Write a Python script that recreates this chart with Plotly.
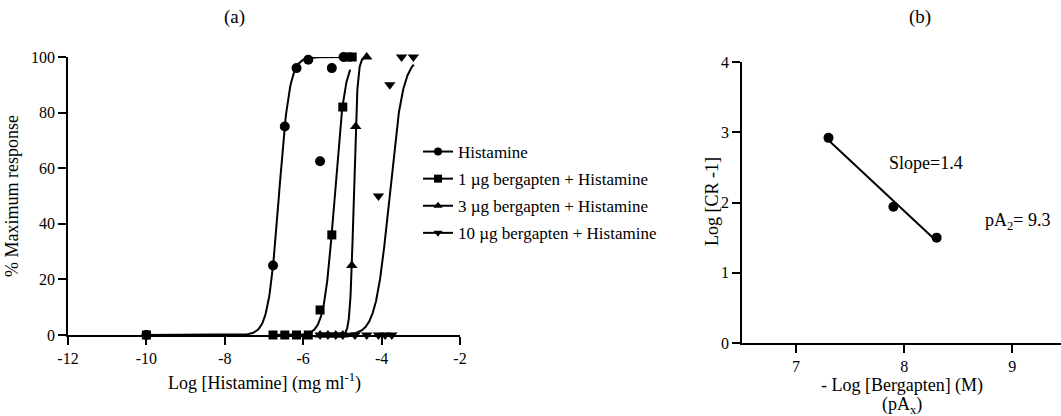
import numpy as np
import plotly.graph_objects as go

# ---------------- data: panel (a) ----------------
hist_x = [-10, -6.77, -6.47, -6.17, -5.87, -5.57, -5.27, -4.97]
hist_y = [0, 25, 75, 96, 99, 62.5, 96, 100]

b1_x = [-10, -6.77, -6.47, -6.17, -5.87, -5.57, -5.27, -4.99, -4.87, -4.75]
b1_y = [0, 0, 0, 0, 0, 9, 36, 82, 100, 100]

b3_x = [-5.57, -5.37, -5.17, -4.99, -4.76, -4.66, -4.38]
b3_y = [0, 0, 0, 0, 25, 75, 100]

b10_x = [-5.57, -5.37, -5.17, -4.99, -4.68, -4.38, -4.08, -3.91, -3.74, -4.08, -3.79, -3.49, -3.19]
b10_y = [0, 0, 0, 0, 0, 0, 0, 0, 0, 50, 90, 100, 100]

# fitted sigmoid parameters (log EC50, Hill slope, x-range of fitted curve)
fits = {
    "Histamine": (-6.62, 3.2, -10.0, -4.97),
    "1 µg bergapten + Histamine": (-5.2, 3.3, -6.8, -4.8),
    "3 µg bergapten + Histamine": (-4.71, 9.5, -5.57, -4.4),
    "10 µg bergapten + Histamine": (-3.8, 2.5, -4.9, -3.18),
}
series_names = list(fits.keys())

# ---------------- data: panel (b) ----------------
schild_x = [7.3, 7.9, 8.3]
schild_y = [2.92, 1.94, 1.5]

a_xticks = [-12, -10, -8, -6, -4, -2]
a_xticktext = ["-12", "-10", "-8", "-6", "-4", "-2"]
a_yticks = [0, 20, 40, 60, 80, 100]
b_xticks = [7, 8, 9]
b_yticks = [0, 1, 2, 3, 4]

FONT = "Liberation Serif"
BLACK = "#000000"
TICKSIZE = 16

fig = go.Figure()

symbols = ["circle", "square", "triangle-up", "triangle-down"]
msizes = [10, 9, 10, 10]
pts = [(hist_x, hist_y), (b1_x, b1_y), (b3_x, b3_y), (b10_x, b10_y)]

for name, sym, ms, (px, py) in zip(series_names, symbols, msizes, pts):
    ec50, h, x0, x1 = fits[name]
    xc = np.linspace(x0, x1, 300)
    yc = 100.0 / (1.0 + 10 ** ((ec50 - xc) * h))
    fig.add_trace(go.Scatter(x=xc, y=yc, mode="lines", line=dict(color=BLACK, width=2),
                             showlegend=False, hoverinfo="skip", xaxis="x", yaxis="y",
                             cliponaxis=False))
    fig.add_trace(go.Scatter(x=px, y=py, mode="markers",
                             marker=dict(symbol=sym, size=ms, color=BLACK),
                             showlegend=False, xaxis="x", yaxis="y", cliponaxis=False))
    # legend entry
    fig.add_trace(go.Scatter(x=[None], y=[None], mode="lines+markers", name=name,
                             line=dict(color=BLACK, width=2),
                             marker=dict(symbol=sym, size=8, color=BLACK),
                             legendgroup=name, xaxis="x", yaxis="y"))

# panel (b)
slope, intercept = np.polyfit(schild_x, schild_y, 1)
lx = np.array([min(schild_x), max(schild_x)])
fig.add_trace(go.Scatter(x=lx, y=slope * lx + intercept, mode="lines",
                         line=dict(color=BLACK, width=2), showlegend=False,
                         xaxis="x2", yaxis="y2"))
fig.add_trace(go.Scatter(x=schild_x, y=schild_y, mode="markers",
                         marker=dict(symbol="circle", size=10, color=BLACK),
                         showlegend=False, xaxis="x2", yaxis="y2", cliponaxis=False))

W, H = 1061, 416


def axis(**kw):
    d = dict(showgrid=False, zeroline=False, showline=True, linecolor=BLACK, linewidth=1.5,
             ticks="outside", ticklen=8, tickwidth=1.5, tickcolor=BLACK, automargin=False,
             tickfont=dict(family=FONT, size=TICKSIZE, color=BLACK))
    d.update(kw)
    return d


fig.update_layout(
    width=W, height=H, margin=dict(l=0, r=0, t=0, b=0),
    paper_bgcolor="white", plot_bgcolor="white",
    font=dict(family=FONT, size=TICKSIZE, color=BLACK),
    xaxis=axis(domain=[68 / W, 460 / W], range=[-12, -2], tickvals=a_xticks,
               ticktext=a_xticktext, anchor="y"),
    yaxis=axis(domain=[(H - 335) / H, (H - 57) / H], range=[0, 100], tickvals=a_yticks,
               anchor="x"),
    xaxis2=axis(domain=[742 / W, 1.0], range=[6.5, 9.45], tickvals=b_xticks, anchor="y2"),
    yaxis2=axis(domain=[(H - 343) / H, (H - 62) / H], range=[0, 4], tickvals=b_yticks,
                anchor="x2"),
    legend=dict(x=418 / W, y=(H - 134) / H, xanchor="left", yanchor="top",
                bgcolor="rgba(0,0,0,0)", font=dict(family=FONT, size=17, color=BLACK),
                tracegroupgap=2, itemwidth=30),
    showlegend=True,
)

ann = [
    dict(text="(a)", x=234 / W, y=(H - 17) / H, size=19),
    dict(text="(b)", x=920 / W, y=(H - 17) / H, size=19),
    dict(text="Log [Histamine] (mg ml<sup>-1</sup>)", x=264 / W, y=(H - 382) / H, size=18),
    dict(text="% Maximum response", x=12 / W, y=(H - 196) / H, textangle=-90, size=18),
    dict(text="Log [CR -1]", x=712 / W, y=(H - 202) / H, textangle=-90, size=18),
    dict(text="- Log [Bergapten] (M)", x=902 / W, y=(H - 385) / H, size=18),
    dict(text="(pA<sub>x</sub>)", x=902 / W, y=(H - 405) / H, size=18),
    dict(text="Slope=1.4", x=926 / W, y=(H - 163) / H, size=18),
    dict(text="pA<sub>2</sub>= 9.3", x=1017 / W, y=(H - 221) / H, size=18),
]
for a in ann:
    size = a.pop("size")
    fig.add_annotation(xref="paper", yref="paper", showarrow=False,
                       xanchor="center", yanchor="middle",
                       font=dict(family=FONT, size=size, color=BLACK), **a)

fig.write_html("out.html")
